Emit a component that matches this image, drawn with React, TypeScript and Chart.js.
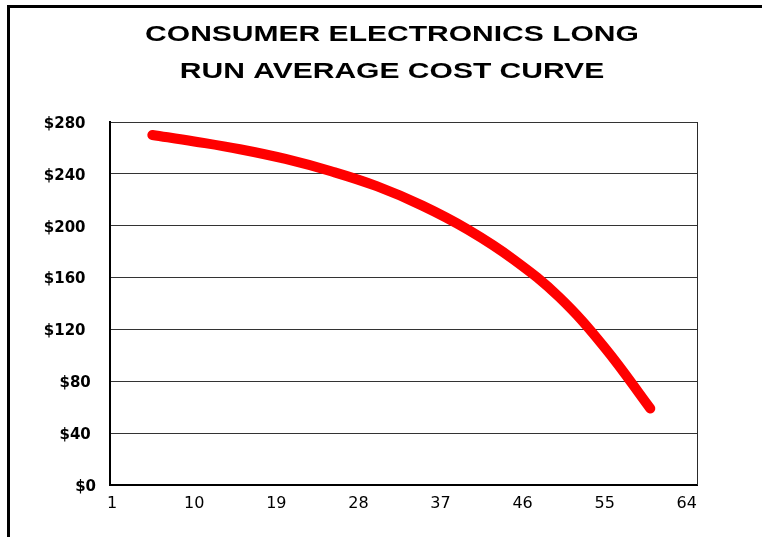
import React, { useEffect, useRef } from "react";
import { Chart, registerables } from "chart.js";

Chart.register(...registerables);

// ---- data ----
const titleLines = ["CONSUMER ELECTRONICS LONG", "RUN AVERAGE COST CURVE"];
const outputQty = [5.4, 10, 15, 20, 25, 30, 35, 40, 45, 50, 55, 60];
const avgCost = [270, 265, 259, 251.5, 242, 230.5, 215.5, 197, 174, 145, 106, 59];
const xTickValues = [1, 10, 19, 28, 37, 46, 55, 64];
const yTickValues = [0, 40, 80, 120, 160, 200, 240, 280];

const titlePlugin = {
  id: "stretchedTitle",
  afterDraw(chart: any) {
    const ctx = chart.ctx;
    ctx.save();
    ctx.font = 'bold 22px "Liberation Sans", Arial, sans-serif';
    ctx.fillStyle = "#000";
    ctx.textAlign = "center";
    ctx.textBaseline = "alphabetic";
    const baselines = [41, 78];
    titleLines.forEach((line, i) => {
      ctx.save();
      ctx.translate(392, baselines[i]);
      ctx.scale(1.365, 1);
      ctx.fillText(line, 0, 0);
      ctx.restore();
    });
    ctx.restore();
  },
};

const framePlugin = {
  id: "plotFrame",
  afterDatasetsDraw(chart: any) {
    const { ctx, chartArea } = chart;
    ctx.save();
    ctx.strokeStyle = "#2a2a2a";
    ctx.lineWidth = 1;
    ctx.beginPath();
    ctx.moveTo(Math.round(chartArea.right) + 0.5, chartArea.top);
    ctx.lineTo(Math.round(chartArea.right) + 0.5, chartArea.bottom);
    ctx.stroke();
    ctx.restore();
  },
};

export default function App() {
  const ref = useRef<HTMLCanvasElement | null>(null);

  useEffect(() => {
    if (!ref.current) return;
    const chart = new Chart(ref.current, {
      type: "line",
      data: {
        datasets: [
          {
            data: outputQty.map((x, i) => ({ x, y: avgCost[i] })),
            borderColor: "#ff0000",
            borderWidth: 10,
            borderCapStyle: "round",
            borderJoinStyle: "round",
            pointRadius: 0,
            fill: false,
            tension: 0.4,
          },
        ],
      },
      options: {
        animation: false,
        responsive: false,
        devicePixelRatio: 1,
        layout: { padding: { top: 122, right: 65, bottom: 0, left: 0 } },
        plugins: {
          legend: { display: false },
          tooltip: { enabled: false },
          title: { display: false },
        },
        scales: {
          x: {
            type: "linear",
            min: 0.76,
            max: 65.12,
            afterFit(scale: any) {
              scale.height = 52;
            },
            afterBuildTicks(scale: any) {
              scale.ticks = xTickValues.map((v) => ({ value: v }));
            },
            grid: { display: false, drawTicks: false },
            border: { display: true, color: "#000", width: 2 },
            ticks: {
              padding: 9,
              color: "#000",
              font: { family: '"DejaVu Sans", sans-serif', size: 16 },
              maxRotation: 0,
              autoSkip: false,
            },
          },
          y: {
            type: "linear",
            min: 0,
            max: 280,
            afterFit(scale: any) {
              scale.width = 110;
            },
            afterBuildTicks(scale: any) {
              scale.ticks = yTickValues.map((v) => ({ value: v }));
            },
            grid: { color: "#333", lineWidth: 1, drawTicks: false },
            border: { display: true, color: "#000", width: 2 },
            ticks: {
              padding: 14,
              labelOffset: 2,
              color: "#000",
              font: { family: '"DejaVu Sans", sans-serif', size: 15, weight: "bold" },
              callback: (v: any) => {
                const s = "$" + v;
                return s + " ".repeat(Math.max(0, s.length - 2));
              },
            },
          },
        },
      },
      plugins: [titlePlugin, framePlugin],
    } as any);
    return () => chart.destroy();
  }, []);

  return (
    <div
      style={{
        position: "fixed",
        left: 0,
        top: 0,
        width: 762,
        height: 537,
        overflow: "hidden",
        background: "#fff",
      }}
    >
      <div
        style={{
          position: "absolute",
          left: 7,
          top: 5,
          width: 900,
          height: 700,
          borderLeft: "3px solid #000",
          borderTop: "3px solid #000",
        }}
      />
      <canvas
        ref={ref}
        width={762}
        height={537}
        style={{ position: "absolute", left: 0, top: 0, width: 762, height: 537 }}
      />
    </div>
  );
}
